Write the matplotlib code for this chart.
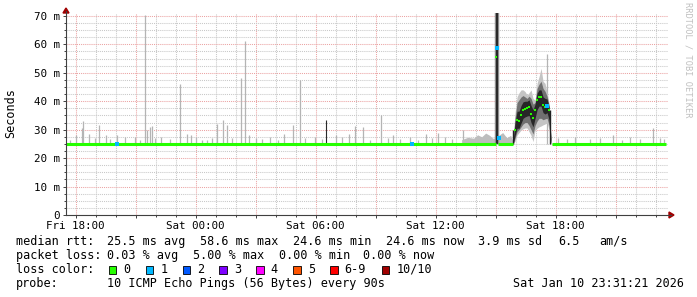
import numpy as np
import matplotlib
matplotlib.use('Agg')
import matplotlib.pyplot as plt
from matplotlib.patches import Polygon, Rectangle
from matplotlib.ticker import MultipleLocator

W, H = 697, 297

# time axis: hours after Fri 18:00
t_start = -29 / 60.0          # Fri 17:31
t_end = 29 + 31 / 60.0        # Sat 23:31
hour_ticks = [0, 3, 6, 9, 12, 15, 18, 21, 24, 27]
hour_labels = ['Fri 18:00', '', 'Sat 00:00', '', 'Sat 06:00', '',
               'Sat 12:00', '', 'Sat 18:00', '']
ms_ticks = [0, 10, 20, 30, 40, 50, 60, 70]
ms_labels = ['0', '10 m', '20 m', '30 m', '40 m', '50 m', '60 m', '70 m']

base_rtt = 24.8
base_segments = [(t_start, 21.0), (21.1, 21.86), (23.8, t_end)]

# light smoke spikes (time h, top ms)
spike_t = [0.02, 0.32, 0.37, 0.67, 1.17, 1.52, 2.07, 2.97, 3.47, 3.57,
           3.72, 3.82, 4.27, 5.22, 5.57, 5.77, 6.32, 6.82, 7.07, 7.37,
           7.57, 8.27, 8.47, 8.67, 9.02, 10.42, 10.87, 11.22, 11.97, 13.02,
           13.67, 13.97, 14.37, 15.27, 15.87, 17.52, 18.12, 19.37, 23.56, 26.87,
           28.87]
spike_top = [28.1, 30.6, 33.0, 28.5, 31.7, 28.0, 28.0, 27.5, 70.3, 30.0,
             31.0, 31.2, 27.5, 46.0, 28.5, 28.3, 26.5, 27.0, 32.0, 33.5,
             31.5, 48.2, 61.2, 28.3, 27.0, 28.5, 31.6, 47.5, 27.5, 28.0,
             28.5, 31.3, 31.0, 35.2, 28.0, 28.5, 29.0, 30.0, 56.5, 28.0,
             30.5]

# small smoke bits just above the median
small_t = [-0.28, 0.97, 1.72, 2.47, 3.22, 3.97, 4.72, 6.02, 6.57, 7.82,
           9.32, 9.72, 10.12, 11.47, 12.32, 13.32, 14.72, 15.62, 16.22, 16.72,
           17.12, 17.82, 18.47, 18.82, 24.12, 24.57, 24.97, 25.72, 26.22, 27.32,
           27.72, 28.22, 29.22, 29.42]
small_top = [26.5, 27.2, 26.8, 27.5, 26.3, 27.0, 26.6, 27.3, 26.4, 27.1,
             26.8, 27.4, 26.5, 27.0, 26.7, 27.3, 26.5, 27.2, 26.8, 27.5,
             26.4, 27.0, 27.3, 26.8, 27.2, 26.6, 27.4, 26.9, 27.0, 26.5,
             27.3, 26.8, 27.1, 26.6]

# dark smoke spikes
dark_t = [12.54, 21.05]
dark_top = [33.3, 70.9]

# haze before / after the big spike
haze_t = [19.3, 19.6, 19.9, 20.1, 20.3, 20.5, 20.7, 20.85, 21.0,
          21.15, 21.35, 21.55, 21.75, 21.86]
haze_top = [26.5, 27.3, 27.0, 28.2, 27.5, 28.8, 28.0, 27.0, 27.0,
            28.0, 29.0, 27.2, 28.0, 26.0]

# the bump Sat 15:50 - 17:45
bump_t = [21.87, 21.97, 22.07, 22.17, 22.27, 22.37, 22.47, 22.57, 22.67, 22.77,
          22.87, 22.97, 23.07, 23.17, 23.27, 23.37, 23.47, 23.57, 23.67, 23.77]
bump_med = [25.3, 30.0, 33.4, 33.0, 35.2, 36.9, 37.3, 37.6, 38.0, 35.5,
            34.0, 36.9, 40.4, 41.5, 41.5, 38.7, 38.0, 38.3, 36.9, 25.3]
light_hi = [27.0, 36.0, 41.6, 43.0, 44.0, 44.0, 43.4, 42.2, 43.0, 44.0,
            41.0, 40.4, 46.3, 48.7, 51.6, 47.0, 46.3, 43.0, 39.4, 27.0]
light_lo = [25.0, 26.0, 28.1, 29.0, 29.9, 30.3, 30.6, 30.6, 29.3, 28.0,
            25.8, 29.9, 30.5, 31.0, 31.3, 31.7, 32.0, 32.4, 30.0, 25.0]
mid_hi = [26.0, 34.0, 39.5, 40.5, 41.5, 42.0, 41.5, 41.0, 41.8, 41.0,
          39.0, 39.5, 44.5, 46.0, 47.0, 44.5, 43.5, 41.8, 38.5, 26.0]
mid_lo = [25.0, 27.0, 29.3, 30.0, 31.0, 32.0, 32.5, 32.5, 31.5, 30.0,
          28.5, 31.5, 33.0, 34.0, 34.0, 33.5, 33.8, 34.0, 31.5, 25.0]
dark_hi = [25.8, 32.5, 36.5, 36.5, 38.5, 39.8, 40.0, 40.0, 40.5, 38.5,
           37.0, 39.0, 42.8, 44.0, 44.0, 41.5, 41.0, 40.8, 38.0, 25.8]
dark_lo = [24.8, 28.0, 30.5, 30.5, 32.3, 34.0, 34.5, 34.8, 35.0, 32.5,
           31.0, 34.0, 37.0, 38.3, 38.3, 36.0, 35.5, 36.0, 33.5, 24.8]

spike_med_t = [21.02]
spike_med = [55.7]

# samples with 1/10 loss
loss_t = [2.07, 16.8, 21.07, 21.15, 23.55]
loss_v = [24.8, 24.8, 58.6, 27.0, 38.5]

loss_colors = ['#26ff00', '#00b8ff', '#0059ff', '#7e00ff', '#ff00ff',
               '#ff5500', '#ff0000', '#a10000']
loss_names = ['0', '1', '2', '3', '4', '5', '6-9', '10/10']

median_line = ['median rtt:', '25.5 ms avg', '58.6 ms max', '24.6 ms min',
               '24.6 ms now', '3.9 ms sd', '6.5', 'am/s']
loss_line = ['packet loss:', '0.03 % avg', '5.00 % max', '0.00 % min', '0.00 % now']


def fx(px):
    return px / W


def fy(py):
    return 1 - py / H


mono = 'DejaVu Sans Mono'
fig = plt.figure(figsize=(W / 100, H / 100), dpi=100)
fig.patch.set_facecolor('white')
ax = fig.add_axes([fx(66), fy(215), 602 / W, 201.9 / H])
ax.set_xlim(t_start, t_start + 602 / 20.0)
ax.set_ylim(0, 71)
for s in ax.spines.values():
    s.set_visible(False)

ax.set_xticks(hour_ticks)
ax.set_xticklabels(hour_labels, fontfamily=mono, fontsize=7.8)
ax.xaxis.set_minor_locator(MultipleLocator(1))
ax.set_yticks(ms_ticks)
ax.set_yticklabels(ms_labels, fontfamily=mono, fontsize=7.8)
ax.yaxis.set_minor_locator(MultipleLocator(2.5))
ax.tick_params(which='major', length=2.5, width=0.7, color='#404040', pad=2)
ax.tick_params(which='minor', length=1.5, width=0.7, color='#404040')
ax.grid(which='major', color='#eba3a3', lw=0.75, ls=(0, (1, 1)))
ax.grid(which='minor', color='#c8c8c8', lw=0.75, ls=(0, (1, 1)))
ax.set_axisbelow(True)

# smoke
ax.vlines(small_t, base_rtt, small_top, color='#b8b8b8', lw=0.9, zorder=2)
ax.vlines(spike_t, base_rtt, spike_top, color='#b4b4b4', lw=0.9, zorder=2)
ax.fill_between(haze_t, base_rtt, haze_top, color='#bdbdbd', lw=0, zorder=2)
ax.fill_between(bump_t, light_lo, light_hi, color='#c4c4c4', lw=0, zorder=2)
ax.fill_between(bump_t, mid_lo, mid_hi, color='#707070', lw=0, zorder=2)
ax.fill_between(bump_t, dark_lo, dark_hi, color='#262626', lw=0, zorder=2)
ax.vlines([bump_t[0], bump_t[-2] + 0.05], base_rtt, [bump_med[1], bump_med[-2]],
          color='#202020', lw=1.0, zorder=2)
ax.vlines(dark_t[1], base_rtt, dark_top[1], color='#9a9a9a', lw=3.2, zorder=2)
ax.vlines(dark_t, base_rtt, dark_top, color='#2a2a2a', lw=[0.8, 1.6], zorder=2)

# median
for a, b in base_segments:
    ax.plot([a, b], [base_rtt, base_rtt], color=loss_colors[0], lw=2.2,
            solid_capstyle='butt', zorder=3)
ax.plot(bump_t[1:-1], bump_med[1:-1], 's', color=loss_colors[0], ms=2.0,
        mew=0, zorder=3)
ax.plot(spike_med_t, spike_med, 's', color=loss_colors[0], ms=2.0, mew=0, zorder=3)
ax.plot(loss_t, loss_v, 's', color=loss_colors[1], ms=2.3, mew=0, zorder=4)

fig.text(fx(10.5), fy(113), 'Seconds', rotation=90, fontfamily=mono, fontsize=8.5,
         ha='center', va='center')

# axes with arrows
axis_c = '#404040'
arrow_c = '#a00000'
fig.add_artist(plt.Line2D([fx(66), fx(671)], [fy(215), fy(215)], color=axis_c, lw=0.8))
fig.add_artist(plt.Line2D([fx(66), fx(66)], [fy(215), fy(11)], color=axis_c, lw=0.8))
fig.add_artist(Polygon([[fx(669), fy(212)], [fx(669), fy(218)], [fx(674), fy(215)]],
                       closed=True, color=arrow_c, transform=fig.transFigure))
fig.add_artist(Polygon([[fx(63), fy(13)], [fx(69), fy(13)], [fx(66), fy(8)]],
                       closed=True, color=arrow_c, transform=fig.transFigure))

fig.text(fx(688), fy(60), 'RRDTOOL / TOBI OETIKER', rotation=-90, color='#c0c0c0',
         fontfamily=mono, fontsize=6.2, ha='center', va='center')

# legend text
txt = dict(fontfamily=mono, fontsize=8.5, va='center', ha='left', color='black')
med_x = [16, 107.3, 200, 293.3, 386, 477.7, 558, 599.3]
for s, x in zip(median_line, med_x):
    fig.text(fx(x), fy(241.5), s, **txt)
loss_x = [16, 107.3, 193.3, 279.3, 363.3]
for s, x in zip(loss_line, loss_x):
    fig.text(fx(x), fy(255.5), s, **txt)
fig.text(fx(16), fy(269.5), 'loss color:', **txt)
box_x = [108.7, 145.7, 182.7, 219.3, 256, 293.3, 330, 381.7]
for bx, c, name in zip(box_x, loss_colors, loss_names):
    fig.add_artist(Rectangle((fx(bx), fy(273.5)), 7.5 / W, 7.5 / H, facecolor=c,
                             edgecolor='black', lw=0.6, transform=fig.transFigure))
    fig.text(fx(bx + 14.5), fy(269.5), name, **txt)
fig.text(fx(16), fy(283.5), 'probe:', **txt)
fig.text(fx(107.3), fy(283.5), '10 ICMP Echo Pings (56 Bytes) every 90s', **txt)
fig.text(fx(513.3), fy(283.5), 'Sat Jan 10 23:31:21 2026', **txt)

fig.savefig('out.png', dpi=100)
